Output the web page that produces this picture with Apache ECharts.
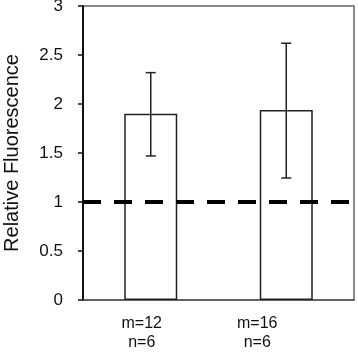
<!DOCTYPE html>
<html>
<head>
<meta charset="utf-8">
<script src="https://cdn.jsdelivr.net/npm/echarts@6/dist/echarts.min.js"></script>
<style>
  html, body { margin: 0; padding: 0; background: #fff; }
  #chart { width: 358px; height: 352px; }
</style>
</head>
<body>
<div id="chart"></div>
<script>
// data
const categories = ['m=12\nn=6', 'm=16\nn=6']
const means = [1.90, 1.94]
const errLow = [1.47, 1.245]
const errHigh = [2.32, 2.62]
const yTicks = [0, 0.5, 1, 1.5, 2, 2.5, 3]
const baseline = 1

const chart = echarts.init(document.getElementById('chart'))

// label offsets so the text sits where the reference has it
const labelPad = [[0, 18, 0, 0], [0, 58, 0, 0]]

const option = {
  animation: false,
  textStyle: { fontFamily: 'Liberation Sans, Arial, sans-serif' },
  grid: {
    left: 83, right: 4, top: 6, bottom: 52,
    outerBoundsMode: 'none',
    containLabel: false,
    show: true,
    borderColor: '#666',
    borderWidth: 1.5
  },
  xAxis: {
    type: 'category',
    data: categories.map((c, i) => ({ value: c, textStyle: { padding: labelPad[i] } })),
    axisLine: { lineStyle: { color: '#555', width: 1.5 } },
    axisTick: { length: 4, lineStyle: { color: '#333', width: 1.5 } },
    axisLabel: {
      color: '#111',
      fontSize: 16,
      lineHeight: 19,
      margin: 14
    },
    splitLine: { show: false }
  },
  yAxis: {
    type: 'value',
    min: yTicks[0],
    max: yTicks[yTicks.length - 1],
    interval: 0.5,
    name: 'Relative Fluorescence',
    nameLocation: 'middle',
    nameGap: 61,
    nameRotate: 90,
    nameTextStyle: { color: '#111', fontSize: 20 },
    axisLine: { show: true, lineStyle: { color: '#111', width: 2 } },
    axisTick: { show: true, length: 5, lineStyle: { color: '#111', width: 1.5 } },
    axisLabel: {
      color: '#111',
      fontSize: 17,
      margin: 20,
      formatter: v => String(v)
    },
    splitLine: { show: false }
  },
  series: [
    {
      type: 'bar',
      data: means,
      barWidth: 53,
      itemStyle: { color: '#fff', borderColor: '#222', borderWidth: 1.5 },
      markLine: {
        silent: true,
        symbol: 'none',
        label: { show: false },
        lineStyle: { color: '#000', width: 4, type: [18, 13] },
        data: [{ yAxis: baseline }]
      },
      z: 2
    },
    {
      type: 'custom',
      data: categories.map((c, i) => [i, errLow[i], errHigh[i]]),
      renderItem: (params, api) => {
        const lo = api.coord([api.value(0), api.value(1)])
        const hi = api.coord([api.value(0), api.value(2)])
        const x = lo[0]
        const cap = 5
        const style = { stroke: '#222', lineWidth: 1.5 }
        return {
          type: 'group',
          children: [
            { type: 'line', shape: { x1: x, y1: lo[1], x2: x, y2: hi[1] }, style },
            { type: 'line', shape: { x1: x - cap, y1: hi[1], x2: x + cap, y2: hi[1] }, style },
            { type: 'line', shape: { x1: x - cap, y1: lo[1], x2: x + cap, y2: lo[1] }, style }
          ]
        }
      },
      z: 5
    }
  ]
}

chart.setOption(option)
</script>
</body>
</html>
